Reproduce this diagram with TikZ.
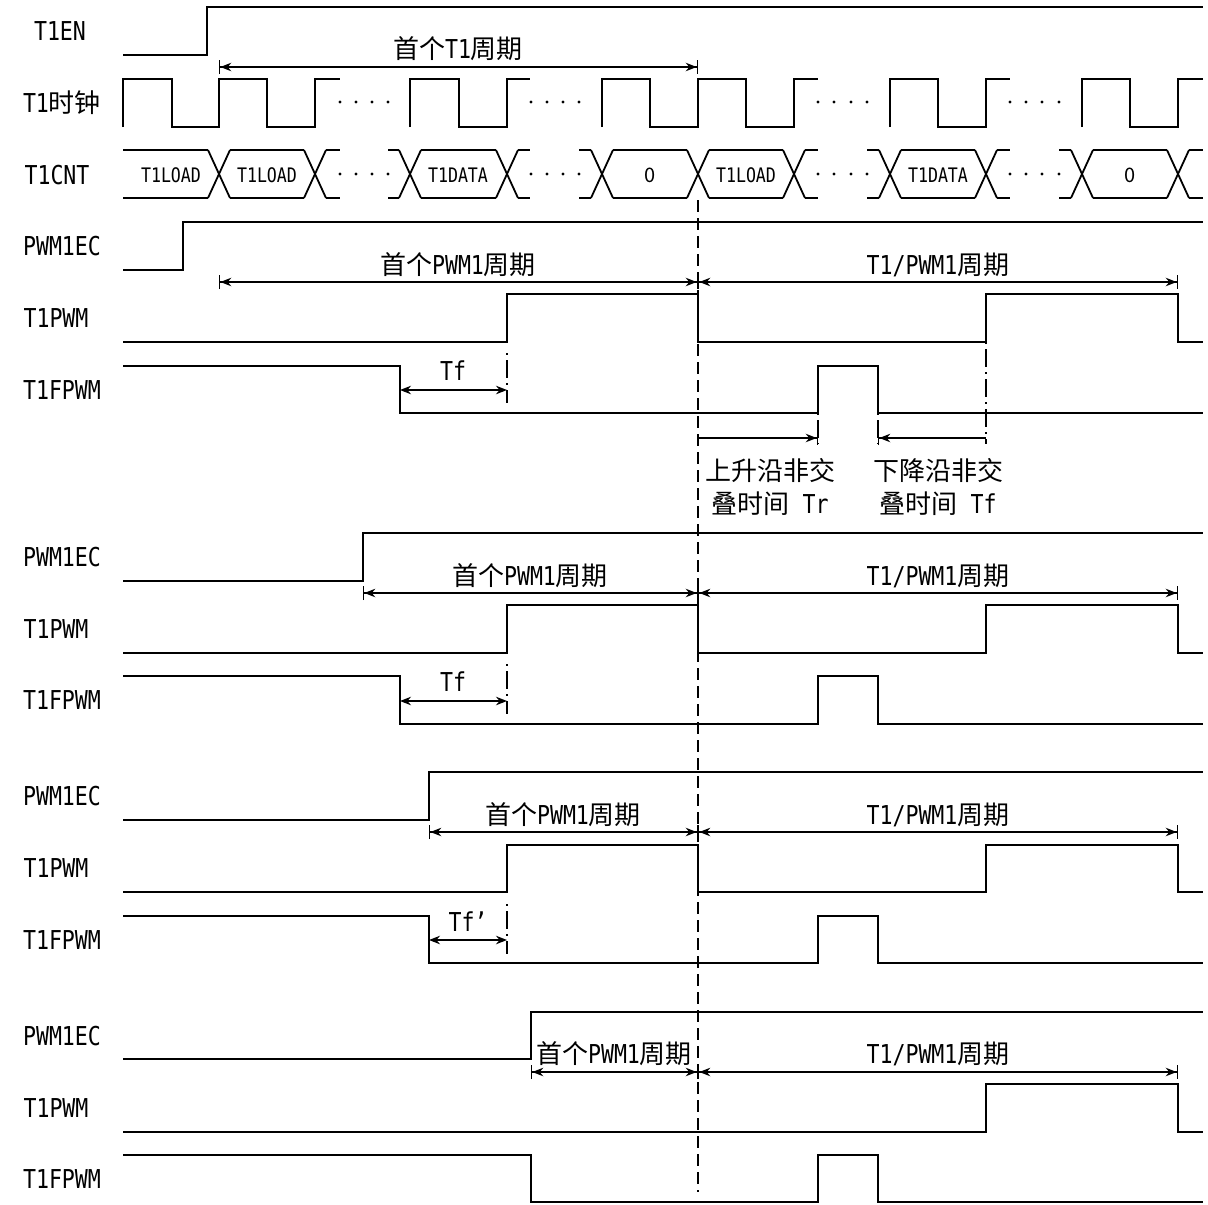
\documentclass[tikz,border=0pt]{standalone}
\usepackage{fontspec}
\setmainfont[FakeStretch=0.83]{DejaVu Sans Mono}
\newfontfamily\zhfont{Noto Sans CJK SC}
\newcommand{\zh}[1]{{\zhfont #1}}
\usetikzlibrary{arrows.meta}

\tikzset{
    wave/.style={line width=1.8pt},
    dim/.style={line width=1.3pt},
    tipboth/.style={{Bar[width=14pt]Stealth[length=11pt,width=8.5pt]}-{Stealth[length=11pt,width=8.5pt]Bar[width=14pt]}},
    tipin/.style={{Stealth[length=11pt,width=8.5pt]}-{Stealth[length=11pt,width=8.5pt]}},
    tipright/.style={-{Stealth[length=11pt,width=8.5pt]Bar[width=14pt]}},
    tipleft/.style={{Bar[width=14pt]Stealth[length=11pt,width=8.5pt]}-},
    guide/.style={line width=1.2pt, dash pattern=on 12pt off 6pt},
    shortguide/.style={line width=1.2pt, dash pattern=on 2pt off 5pt on 18pt off 5pt},
    sig/.style={font=\fontsize{26}{33}\selectfont},
    bus/.style={font=\fontsize{20}{24}\selectfont},
}

\begin{document}
\begin{tikzpicture}[x=1pt, y=-1pt]
            \useasboundingbox (0, 0) rectangle (1208, 1205);

            \node[sig] (enlbl) at (60, 31) {T1EN};
            \node[sig] (clklbl) at (62, 103) {T1\zh{时钟}};
            \node[sig] (cntlbl) at (57, 175) {T1CNT};
            \node[sig] (eclblA) at (62, 246) {PWM1EC};
            \node[sig] (pwmlblA) at (56, 318) {T1PWM};
            \node[sig] (fpwmlblA) at (62, 390) {T1FPWM};
            \node[sig] (eclblB) at (62, 557) {PWM1EC};
            \node[sig] (pwmlblB) at (56, 629) {T1PWM};
            \node[sig] (fpwmlblB) at (62, 700) {T1FPWM};
            \node[sig] (eclblC) at (62, 796) {PWM1EC};
            \node[sig] (pwmlblC) at (56, 868) {T1PWM};
            \node[sig] (fpwmlblC) at (62, 940) {T1FPWM};
            \node[sig] (eclblD) at (62, 1036) {PWM1EC};
            \node[sig] (pwmlblD) at (56, 1108) {T1PWM};
            \node[sig] (fpwmlblD) at (62, 1179) {T1FPWM};

            \draw[wave] (123, 55) -- (207, 55) -- (207, 7) -- (1203, 7);
            \draw[dim, tipboth] (219, 67) -- (698, 67);
            \node[sig] (t1first) at (458, 49) {\zh{首个}T1\zh{周期}};

            \draw[wave] (123, 127) -- (123, 79) -- (172, 79) -- (172, 127) -- (219, 127) -- (219, 79) -- (267, 79) -- (267, 127) -- (315, 127) -- (315, 79) -- (340, 79);
            \draw[wave] (410, 127) -- (410, 79) -- (459, 79) -- (459, 127) -- (507, 127) -- (507, 79) -- (530, 79);
            \draw[wave] (602, 127) -- (602, 79) -- (650, 79) -- (650, 127) -- (698, 127) -- (698, 79) -- (746, 79) -- (746, 127) -- (794, 127) -- (794, 79) -- (818, 79);
            \draw[wave] (890, 127) -- (890, 79) -- (938, 79) -- (938, 127) -- (986, 127) -- (986, 79) -- (1010, 79);
            \draw[wave] (1082, 127) -- (1082, 79) -- (1130, 79) -- (1130, 127) -- (1178, 127) -- (1178, 79) -- (1203, 79);

            \foreach \c in {219, 315, 410, 507, 602, 698, 794, 890, 986, 1082, 1178}
                \draw[wave] (\c-11, 150) -- (\c+11, 198) (\c-11, 198) -- (\c+11, 150);
            \foreach \a/\b in {123/208, 230/304, 326/340, 388/399, 421/496, 518/530, 579/591, 613/687, 709/783, 805/818, 867/879, 901/975, 997/1010, 1059/1071, 1093/1167, 1189/1203}
                \draw[wave] (\a, 150) -- (\b, 150) (\a, 198) -- (\b, 198);
            \foreach \d in {340, 356, 372, 388, 531, 547, 563, 579, 818, 834, 851, 867, 1010, 1026, 1042, 1059}
                \fill (\d, 102) circle (1.7pt) (\d, 174) circle (1.7pt);

            \node[bus] (loadA) at (171, 175) {T1LOAD};
            \node[bus] (loadB) at (267, 175) {T1LOAD};
            \node[bus] (dataA) at (458, 175) {T1DATA};
            \node[bus] (zeroA) at (650, 175) {\zh{0}};
            \node[bus] (loadC) at (746, 175) {T1LOAD};
            \node[bus] (dataB) at (938, 175) {T1DATA};
            \node[bus] (zeroB) at (1130, 175) {\zh{0}};

            \draw[guide] (698, 200) -- (698, 1192);

            \draw[wave] (123, 270) -- (183, 270) -- (183, 222) -- (1203, 222);
            \draw[dim, tipboth] (219, 282) -- (698, 282);
            \draw[dim, tipboth] (698, 282) -- (1178, 282);
            \node[sig] (pwmfirstA) at (458, 265) {\zh{首个}PWM1\zh{周期}};
            \node[sig] (pwmperA) at (938, 265) {T1/PWM1\zh{周期}};
            \draw[wave] (123, 342) -- (507, 342) -- (507, 294) -- (698, 294) -- (698, 342) -- (986, 342) -- (986, 294) -- (1178, 294) -- (1178, 342) -- (1203, 342);
            \draw[wave] (123, 366) -- (400, 366) -- (400, 413) -- (818, 413) -- (818, 366) -- (878, 366) -- (878, 413) -- (1203, 413);
            \draw[shortguide] (507, 353) -- (507, 403);
            \draw[dim, tipin] (400, 390) -- (507, 390);
            \node[sig] (tfA) at (453, 371) {Tf};
            \draw[shortguide] (986, 342) -- (986, 444);
            \draw[shortguide] (818, 413) -- (818, 444);
            \draw[shortguide] (878, 413) -- (878, 444);
            \draw[dim, tipright] (698, 438) -- (818, 438);
            \draw[dim, tipleft] (878, 438) -- (986, 438);
            \node[sig, align=center] (trtxt) at (770, 487) {\zh{上升沿非交}\\\zh{叠时间} Tr};
            \node[sig, align=center] (tftxt) at (938, 487) {\zh{下降沿非交}\\\zh{叠时间} Tf};

            \draw[wave] (123, 581) -- (363, 581) -- (363, 533) -- (1203, 533);
            \draw[dim, tipboth] (363, 593) -- (698, 593);
            \draw[dim, tipboth] (698, 593) -- (1178, 593);
            \node[sig] (pwmfirstB) at (530, 576) {\zh{首个}PWM1\zh{周期}};
            \node[sig] (pwmperB) at (938, 576) {T1/PWM1\zh{周期}};
            \draw[wave] (123, 653) -- (507, 653) -- (507, 605) -- (698, 605) -- (698, 653) -- (986, 653) -- (986, 605) -- (1178, 605) -- (1178, 653) -- (1203, 653);
            \draw[wave] (123, 676) -- (400, 676) -- (400, 724) -- (818, 724) -- (818, 676) -- (878, 676) -- (878, 724) -- (1203, 724);
            \draw[shortguide] (507, 664) -- (507, 714);
            \draw[dim, tipin] (400, 701) -- (507, 701);
            \node[sig] (tfB) at (453, 682) {Tf};

            \draw[wave] (123, 820) -- (429, 820) -- (429, 772) -- (1203, 772);
            \draw[dim, tipboth] (429, 832) -- (698, 832);
            \draw[dim, tipboth] (698, 832) -- (1178, 832);
            \node[sig] (pwmfirstC) at (563, 815) {\zh{首个}PWM1\zh{周期}};
            \node[sig] (pwmperC) at (938, 815) {T1/PWM1\zh{周期}};
            \draw[wave] (123, 892) -- (507, 892) -- (507, 845) -- (698, 845) -- (698, 892) -- (986, 892) -- (986, 845) -- (1178, 845) -- (1178, 892) -- (1203, 892);
            \draw[wave] (123, 916) -- (429, 916) -- (429, 963) -- (818, 963) -- (818, 916) -- (878, 916) -- (878, 963) -- (1203, 963);
            \draw[shortguide] (507, 904) -- (507, 954);
            \draw[dim, tipin] (429, 940) -- (507, 940);
            \node[sig] (tfC) at (468, 922) {Tf’};

            \draw[wave] (123, 1059) -- (531, 1059) -- (531, 1012) -- (1203, 1012);
            \draw[dim, tipboth] (531, 1072) -- (698, 1072);
            \draw[dim, tipboth] (698, 1072) -- (1178, 1072);
            \node[sig] (pwmfirstD) at (614, 1054) {\zh{首个}PWM1\zh{周期}};
            \node[sig] (pwmperD) at (938, 1054) {T1/PWM1\zh{周期}};
            \draw[wave] (123, 1132) -- (986, 1132) -- (986, 1084) -- (1178, 1084) -- (1178, 1132) -- (1203, 1132);
            \draw[wave] (123, 1155) -- (531, 1155) -- (531, 1202) -- (818, 1202) -- (818, 1155) -- (878, 1155) -- (878, 1202) -- (1203, 1202);
\end{tikzpicture}
\end{document}
